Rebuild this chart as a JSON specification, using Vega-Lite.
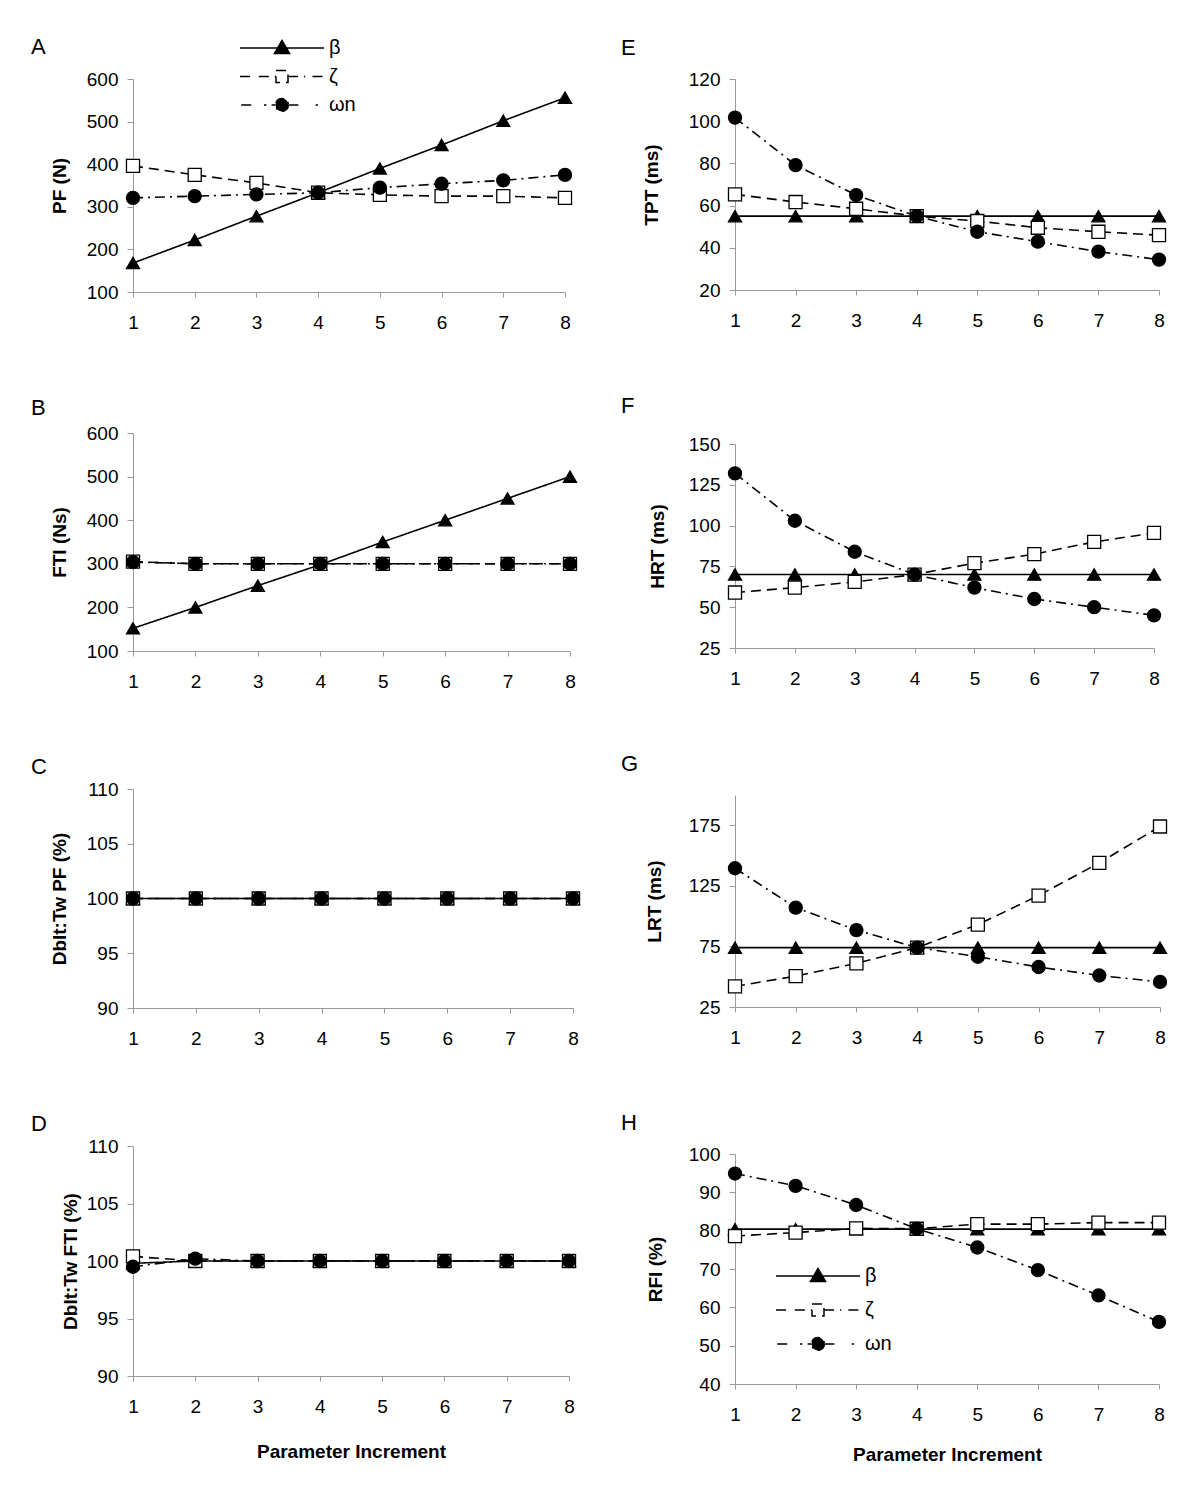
{
  "$schema": "https://vega.github.io/schema/vega-lite/v6.json",
  "background": "white",
  "padding": {"left": 31, "top": 35, "right": 5, "bottom": 5},
  "autosize": {"type": "pad"},
  "datasets": {
    "A": [
      {"param": "β", "x": 1, "y": 168}, {"param": "β", "x": 2, "y": 222}, {"param": "β", "x": 3, "y": 278}, {"param": "β", "x": 4, "y": 333},
      {"param": "β", "x": 5, "y": 390}, {"param": "β", "x": 6, "y": 445}, {"param": "β", "x": 7, "y": 502}, {"param": "β", "x": 8, "y": 556},
      {"param": "ζ", "x": 1, "y": 396}, {"param": "ζ", "x": 2, "y": 375}, {"param": "ζ", "x": 3, "y": 356}, {"param": "ζ", "x": 4, "y": 333},
      {"param": "ζ", "x": 5, "y": 328}, {"param": "ζ", "x": 6, "y": 325}, {"param": "ζ", "x": 7, "y": 325}, {"param": "ζ", "x": 8, "y": 321},
      {"param": "ωn", "x": 1, "y": 321}, {"param": "ωn", "x": 2, "y": 325}, {"param": "ωn", "x": 3, "y": 329}, {"param": "ωn", "x": 4, "y": 333},
      {"param": "ωn", "x": 5, "y": 345}, {"param": "ωn", "x": 6, "y": 354}, {"param": "ωn", "x": 7, "y": 362}, {"param": "ωn", "x": 8, "y": 375}
    ],
    "B": [
      {"param": "β", "x": 1, "y": 152}, {"param": "β", "x": 2, "y": 200}, {"param": "β", "x": 3, "y": 250}, {"param": "β", "x": 4, "y": 298},
      {"param": "β", "x": 5, "y": 350}, {"param": "β", "x": 6, "y": 400}, {"param": "β", "x": 7, "y": 450}, {"param": "β", "x": 8, "y": 500},
      {"param": "ζ", "x": 1, "y": 305}, {"param": "ζ", "x": 2, "y": 300}, {"param": "ζ", "x": 3, "y": 300}, {"param": "ζ", "x": 4, "y": 300},
      {"param": "ζ", "x": 5, "y": 300}, {"param": "ζ", "x": 6, "y": 300}, {"param": "ζ", "x": 7, "y": 300}, {"param": "ζ", "x": 8, "y": 300},
      {"param": "ωn", "x": 1, "y": 304}, {"param": "ωn", "x": 2, "y": 300}, {"param": "ωn", "x": 3, "y": 300}, {"param": "ωn", "x": 4, "y": 300},
      {"param": "ωn", "x": 5, "y": 300}, {"param": "ωn", "x": 6, "y": 300}, {"param": "ωn", "x": 7, "y": 300}, {"param": "ωn", "x": 8, "y": 300}
    ],
    "C": [
      {"param": "β", "x": 1, "y": 100}, {"param": "β", "x": 2, "y": 100}, {"param": "β", "x": 3, "y": 100}, {"param": "β", "x": 4, "y": 100},
      {"param": "β", "x": 5, "y": 100}, {"param": "β", "x": 6, "y": 100}, {"param": "β", "x": 7, "y": 100}, {"param": "β", "x": 8, "y": 100},
      {"param": "ζ", "x": 1, "y": 100}, {"param": "ζ", "x": 2, "y": 100}, {"param": "ζ", "x": 3, "y": 100}, {"param": "ζ", "x": 4, "y": 100},
      {"param": "ζ", "x": 5, "y": 100}, {"param": "ζ", "x": 6, "y": 100}, {"param": "ζ", "x": 7, "y": 100}, {"param": "ζ", "x": 8, "y": 100},
      {"param": "ωn", "x": 1, "y": 100}, {"param": "ωn", "x": 2, "y": 100}, {"param": "ωn", "x": 3, "y": 100}, {"param": "ωn", "x": 4, "y": 100},
      {"param": "ωn", "x": 5, "y": 100}, {"param": "ωn", "x": 6, "y": 100}, {"param": "ωn", "x": 7, "y": 100}, {"param": "ωn", "x": 8, "y": 100}
    ],
    "D": [
      {"param": "β", "x": 1, "y": 99.8}, {"param": "β", "x": 2, "y": 100}, {"param": "β", "x": 3, "y": 100}, {"param": "β", "x": 4, "y": 100},
      {"param": "β", "x": 5, "y": 100}, {"param": "β", "x": 6, "y": 100}, {"param": "β", "x": 7, "y": 100}, {"param": "β", "x": 8, "y": 100},
      {"param": "ζ", "x": 1, "y": 100.4}, {"param": "ζ", "x": 2, "y": 100}, {"param": "ζ", "x": 3, "y": 100}, {"param": "ζ", "x": 4, "y": 100},
      {"param": "ζ", "x": 5, "y": 100}, {"param": "ζ", "x": 6, "y": 100}, {"param": "ζ", "x": 7, "y": 100}, {"param": "ζ", "x": 8, "y": 100},
      {"param": "ωn", "x": 1, "y": 99.5}, {"param": "ωn", "x": 2, "y": 100.2}, {"param": "ωn", "x": 3, "y": 100}, {"param": "ωn", "x": 4, "y": 100},
      {"param": "ωn", "x": 5, "y": 100}, {"param": "ωn", "x": 6, "y": 100}, {"param": "ωn", "x": 7, "y": 100}, {"param": "ωn", "x": 8, "y": 100}
    ],
    "E": [
      {"param": "β", "x": 1, "y": 55}, {"param": "β", "x": 2, "y": 55}, {"param": "β", "x": 3, "y": 55}, {"param": "β", "x": 4, "y": 55},
      {"param": "β", "x": 5, "y": 55}, {"param": "β", "x": 6, "y": 55}, {"param": "β", "x": 7, "y": 55}, {"param": "β", "x": 8, "y": 55},
      {"param": "ζ", "x": 1, "y": 65.3}, {"param": "ζ", "x": 2, "y": 61.7}, {"param": "ζ", "x": 3, "y": 58.5}, {"param": "ζ", "x": 4, "y": 55},
      {"param": "ζ", "x": 5, "y": 52.7}, {"param": "ζ", "x": 6, "y": 49.5}, {"param": "ζ", "x": 7, "y": 47.6}, {"param": "ζ", "x": 8, "y": 46},
      {"param": "ωn", "x": 1, "y": 101.7}, {"param": "ωn", "x": 2, "y": 79.2}, {"param": "ωn", "x": 3, "y": 65}, {"param": "ωn", "x": 4, "y": 55},
      {"param": "ωn", "x": 5, "y": 47.6}, {"param": "ωn", "x": 6, "y": 42.9}, {"param": "ωn", "x": 7, "y": 38.2}, {"param": "ωn", "x": 8, "y": 34.4}
    ],
    "F": [
      {"param": "β", "x": 1, "y": 70}, {"param": "β", "x": 2, "y": 70}, {"param": "β", "x": 3, "y": 70}, {"param": "β", "x": 4, "y": 70},
      {"param": "β", "x": 5, "y": 70}, {"param": "β", "x": 6, "y": 70}, {"param": "β", "x": 7, "y": 70}, {"param": "β", "x": 8, "y": 70},
      {"param": "ζ", "x": 1, "y": 59}, {"param": "ζ", "x": 2, "y": 62}, {"param": "ζ", "x": 3, "y": 65.5}, {"param": "ζ", "x": 4, "y": 70},
      {"param": "ζ", "x": 5, "y": 77}, {"param": "ζ", "x": 6, "y": 82.5}, {"param": "ζ", "x": 7, "y": 90}, {"param": "ζ", "x": 8, "y": 95.5},
      {"param": "ωn", "x": 1, "y": 132}, {"param": "ωn", "x": 2, "y": 103}, {"param": "ωn", "x": 3, "y": 84}, {"param": "ωn", "x": 4, "y": 70},
      {"param": "ωn", "x": 5, "y": 62}, {"param": "ωn", "x": 6, "y": 55}, {"param": "ωn", "x": 7, "y": 50}, {"param": "ωn", "x": 8, "y": 45}
    ],
    "G": [
      {"param": "β", "x": 1, "y": 74}, {"param": "β", "x": 2, "y": 74}, {"param": "β", "x": 3, "y": 74}, {"param": "β", "x": 4, "y": 74},
      {"param": "β", "x": 5, "y": 74}, {"param": "β", "x": 6, "y": 74}, {"param": "β", "x": 7, "y": 74}, {"param": "β", "x": 8, "y": 74},
      {"param": "ζ", "x": 1, "y": 42}, {"param": "ζ", "x": 2, "y": 50.5}, {"param": "ζ", "x": 3, "y": 61}, {"param": "ζ", "x": 4, "y": 74},
      {"param": "ζ", "x": 5, "y": 93}, {"param": "ζ", "x": 6, "y": 117}, {"param": "ζ", "x": 7, "y": 144}, {"param": "ζ", "x": 8, "y": 174},
      {"param": "ωn", "x": 1, "y": 139.5}, {"param": "ωn", "x": 2, "y": 107}, {"param": "ωn", "x": 3, "y": 88.5}, {"param": "ωn", "x": 4, "y": 74},
      {"param": "ωn", "x": 5, "y": 66.5}, {"param": "ωn", "x": 6, "y": 58}, {"param": "ωn", "x": 7, "y": 51}, {"param": "ωn", "x": 8, "y": 45.7}
    ],
    "H": [
      {"param": "β", "x": 1, "y": 80.4}, {"param": "β", "x": 2, "y": 80.4}, {"param": "β", "x": 3, "y": 80.4}, {"param": "β", "x": 4, "y": 80.4},
      {"param": "β", "x": 5, "y": 80.4}, {"param": "β", "x": 6, "y": 80.4}, {"param": "β", "x": 7, "y": 80.4}, {"param": "β", "x": 8, "y": 80.4},
      {"param": "ζ", "x": 1, "y": 78.6}, {"param": "ζ", "x": 2, "y": 79.5}, {"param": "ζ", "x": 3, "y": 80.6}, {"param": "ζ", "x": 4, "y": 80.5},
      {"param": "ζ", "x": 5, "y": 81.7}, {"param": "ζ", "x": 6, "y": 81.7}, {"param": "ζ", "x": 7, "y": 82.1}, {"param": "ζ", "x": 8, "y": 82.1},
      {"param": "ωn", "x": 1, "y": 94.9}, {"param": "ωn", "x": 2, "y": 91.7}, {"param": "ωn", "x": 3, "y": 86.7}, {"param": "ωn", "x": 4, "y": 80.5},
      {"param": "ωn", "x": 5, "y": 75.6}, {"param": "ωn", "x": 6, "y": 69.7}, {"param": "ωn", "x": 7, "y": 63.1}, {"param": "ωn", "x": 8, "y": 56.2}
    ]
  },
  "resolve": {
    "scale": {"strokeDash": "independent", "shape": "independent", "fill": "independent", "stroke": "independent"},
    "legend": {"strokeDash": "independent", "shape": "independent", "fill": "independent", "stroke": "independent"}
  },
  "spacing": 38,
  "hconcat": [
    {
      "concat": [
        {
          "width": 432, "height": 213,
          "title": {"text": "A", "dx": -102, "offset": -20.5},
          "data": {"name": "A"},
          "encoding": {
            "x": {"field": "x", "type": "quantitative", "scale": {"domain": [1, 8], "nice": false, "zero": false}, "axis": {"values": [1, 2, 3, 4, 5, 6, 7, 8], "title": null}},
            "y": {"field": "y", "type": "quantitative", "scale": {"domain": [100, 600], "nice": false, "zero": false}, "axis": {"values": [100, 200, 300, 400, 500, 600], "title": "PF (N)", "titlePadding": 17}}
          },
          "layer": [
            {"mark": {"type": "line", "color": "black", "strokeWidth": 1.6},
             "encoding": {
               "strokeDash": {"field": "param", "type": "nominal", "scale": {"domain": ["β", "ζ", "ωn"], "range": [[1, 0], [10, 6], [10, 5, 2, 5]]}, "legend": null},
               "stroke": {"field": "param", "type": "nominal", "scale": {"domain": ["β", "ζ", "ωn"], "range": ["black", "black", "black"]},
                 "legend": {"orient": "none", "legendX": 139, "legendY": -41, "title": null, "symbolSize": 256,
                   "labelFontSize": 20, "labelFont": "Liberation Sans", "labelColor": "black", "labelOffset": 37, "rowPadding": 8.5, "padding": 0,
                   "encode": {"symbols": {"update": {
                     "shape": {"signal": "datum.value === 'β' ? 'M-5.25,0H5.25M0,-0.95L0.95,0.7L-0.95,0.7Z' : datum.value === 'ζ' ? 'M-5.25,0H-3.8M-2.9,0H-0.75M-0.75,-0.75H0.75V0.75H-0.75ZM0.75,0H2.9M3.8,0H5.25' : 'M-5.1,0H-3.6M-2.25,0H-1.95M-1.3,0H-0.8M0.8,0A0.8,0.8 0 1 1 -0.8,0A0.8,0.8 0 1 1 0.8,0ZM0.8,0H2.5M4.2,0H4.5'"},
                     "fill": {"signal": "datum.value === 'ζ' ? 'white' : 'black'"},
                     "strokeDash": {"value": [1, 0]}, "strokeWidth": {"value": 1.5}, "size": {"value": 256}, "opacity": {"value": 1}}}}}}}},
            {"transform": [{"filter": {"field": "param", "equal": "β"}}],
             "mark": {"type": "point", "shape": "triangle-up", "filled": true, "fill": "black", "stroke": "black", "strokeWidth": 1.3, "opacity": 1, "size": 170}},
            {"transform": [{"filter": {"field": "param", "equal": "ζ"}}],
             "mark": {"type": "point", "shape": "square", "filled": true, "fill": "white", "stroke": "black", "strokeWidth": 1.3, "opacity": 1, "size": 170}},
            {"transform": [{"filter": {"field": "param", "equal": "ωn"}}],
             "mark": {"type": "point", "shape": "circle", "filled": true, "fill": "black", "stroke": "black", "strokeWidth": 1.3, "opacity": 1, "size": 170}}
          ]
        },
        {
          "width": 437, "height": 218,
          "title": {"text": "B", "dx": -102, "offset": 4.5},
          "data": {"name": "B"},
          "encoding": {
            "x": {"field": "x", "type": "quantitative", "scale": {"domain": [1, 8], "nice": false, "zero": false}, "axis": {"values": [1, 2, 3, 4, 5, 6, 7, 8], "title": null}},
            "y": {"field": "y", "type": "quantitative", "scale": {"domain": [100, 600], "nice": false, "zero": false}, "axis": {"values": [100, 200, 300, 400, 500, 600], "title": "FTI (Ns)", "titlePadding": 17}}
          },
          "layer": [
            {"mark": {"type": "line", "color": "black", "strokeWidth": 1.6},
             "encoding": {"strokeDash": {"field": "param", "type": "nominal", "scale": {"domain": ["β", "ζ", "ωn"], "range": [[1, 0], [10, 6], [10, 5, 2, 5]]}, "legend": null}}},
            {"mark": {"type": "point", "filled": true, "stroke": "black", "strokeWidth": 1.3, "opacity": 1, "size": 170},
             "encoding": {
               "shape": {"field": "param", "type": "nominal", "scale": {"domain": ["β", "ζ", "ωn"], "range": ["triangle-up", "square", "circle"]}, "legend": null},
               "fill": {"field": "param", "type": "nominal", "scale": {"domain": ["β", "ζ", "ωn"], "range": ["black", "white", "black"]}, "legend": null}}}
          ]
        },
        {
          "width": 440, "height": 219,
          "title": {"text": "C", "dx": -102, "offset": 1.5},
          "data": {"name": "C"},
          "encoding": {
            "x": {"field": "x", "type": "quantitative", "scale": {"domain": [1, 8], "nice": false, "zero": false}, "axis": {"values": [1, 2, 3, 4, 5, 6, 7, 8], "title": null}},
            "y": {"field": "y", "type": "quantitative", "scale": {"domain": [90, 110], "nice": false, "zero": false}, "axis": {"values": [90, 95, 100, 105, 110], "title": "Dblt:Tw PF (%)", "titlePadding": 17}}
          },
          "layer": [
            {"mark": {"type": "line", "color": "black", "strokeWidth": 1.6},
             "encoding": {"strokeDash": {"field": "param", "type": "nominal", "scale": {"domain": ["β", "ζ", "ωn"], "range": [[1, 0], [10, 6], [10, 5, 2, 5]]}, "legend": null}}},
            {"mark": {"type": "point", "filled": true, "stroke": "black", "strokeWidth": 1.3, "opacity": 1, "size": 170},
             "encoding": {
               "shape": {"field": "param", "type": "nominal", "scale": {"domain": ["β", "ζ", "ωn"], "range": ["triangle-up", "square", "circle"]}, "legend": null},
               "fill": {"field": "param", "type": "nominal", "scale": {"domain": ["β", "ζ", "ωn"], "range": ["black", "white", "black"]}, "legend": null}}}
          ]
        },
        {
          "width": 436, "height": 230,
          "title": {"text": "D", "dx": -102, "offset": 1.5},
          "data": {"name": "D"},
          "encoding": {
            "x": {"field": "x", "type": "quantitative", "scale": {"domain": [1, 8], "nice": false, "zero": false}, "axis": {"values": [1, 2, 3, 4, 5, 6, 7, 8], "title": "Parameter Increment", "titlePadding": 26}},
            "y": {"field": "y", "type": "quantitative", "scale": {"domain": [90, 110], "nice": false, "zero": false}, "axis": {"values": [90, 95, 100, 105, 110], "title": "Dblt:Tw FTI (%)", "titlePadding": 6}}
          },
          "layer": [
            {"mark": {"type": "line", "color": "black", "strokeWidth": 1.6},
             "encoding": {"strokeDash": {"field": "param", "type": "nominal", "scale": {"domain": ["β", "ζ", "ωn"], "range": [[1, 0], [10, 6], [10, 5, 2, 5]]}, "legend": null}}},
            {"mark": {"type": "point", "filled": true, "stroke": "black", "strokeWidth": 1.3, "opacity": 1, "size": 170},
             "encoding": {
               "shape": {"field": "param", "type": "nominal", "scale": {"domain": ["β", "ζ", "ωn"], "range": ["triangle-up", "square", "circle"]}, "legend": null},
               "fill": {"field": "param", "type": "nominal", "scale": {"domain": ["β", "ζ", "ωn"], "range": ["black", "white", "black"]}, "legend": null}}}
          ]
        }
      ],
      "columns": 1,
      "align": "none",
      "spacing": 64,
      "resolve": {
        "scale": {"strokeDash": "independent", "shape": "independent", "fill": "independent", "stroke": "independent"},
        "legend": {"strokeDash": "independent", "shape": "independent", "fill": "independent", "stroke": "independent"}
      }
    },
    {
      "concat": [
        {
          "width": 424, "height": 211,
          "title": {"text": "E", "dx": -114, "offset": 10.5},
          "data": {"name": "E"},
          "encoding": {
            "x": {"field": "x", "type": "quantitative", "scale": {"domain": [1, 8], "nice": false, "zero": false}, "axis": {"values": [1, 2, 3, 4, 5, 6, 7, 8], "title": null}},
            "y": {"field": "y", "type": "quantitative", "scale": {"domain": [20, 120], "nice": false, "zero": false}, "axis": {"values": [20, 40, 60, 80, 100, 120], "title": "TPT (ms)", "titlePadding": 27}}
          },
          "layer": [
            {"mark": {"type": "line", "color": "black", "strokeWidth": 1.6},
             "encoding": {"strokeDash": {"field": "param", "type": "nominal", "scale": {"domain": ["β", "ζ", "ωn"], "range": [[1, 0], [10, 6], [10, 5, 2, 5]]}, "legend": null}}},
            {"mark": {"type": "point", "filled": true, "stroke": "black", "strokeWidth": 1.3, "opacity": 1, "size": 170},
             "encoding": {
               "shape": {"field": "param", "type": "nominal", "scale": {"domain": ["β", "ζ", "ωn"], "range": ["triangle-up", "square", "circle"]}, "legend": null},
               "fill": {"field": "param", "type": "nominal", "scale": {"domain": ["β", "ζ", "ωn"], "range": ["black", "white", "black"]}, "legend": null}}}
          ]
        },
        {
          "width": 419, "height": 204,
          "title": {"text": "F", "dx": -114, "offset": 17.5},
          "data": {"name": "F"},
          "encoding": {
            "x": {"field": "x", "type": "quantitative", "scale": {"domain": [1, 8], "nice": false, "zero": false}, "axis": {"values": [1, 2, 3, 4, 5, 6, 7, 8], "title": null}},
            "y": {"field": "y", "type": "quantitative", "scale": {"domain": [25, 150], "nice": false, "zero": false}, "axis": {"values": [25, 50, 75, 100, 125, 150], "title": "HRT (ms)", "titlePadding": 21}}
          },
          "layer": [
            {"mark": {"type": "line", "color": "black", "strokeWidth": 1.6},
             "encoding": {"strokeDash": {"field": "param", "type": "nominal", "scale": {"domain": ["β", "ζ", "ωn"], "range": [[1, 0], [10, 6], [10, 5, 2, 5]]}, "legend": null}}},
            {"mark": {"type": "point", "filled": true, "stroke": "black", "strokeWidth": 1.3, "opacity": 1, "size": 170},
             "encoding": {
               "shape": {"field": "param", "type": "nominal", "scale": {"domain": ["β", "ζ", "ωn"], "range": ["triangle-up", "square", "circle"]}, "legend": null},
               "fill": {"field": "param", "type": "nominal", "scale": {"domain": ["β", "ζ", "ωn"], "range": ["black", "white", "black"]}, "legend": null}}}
          ]
        },
        {
          "width": 425, "height": 212,
          "title": {"text": "G", "dx": -114, "offset": 19.5},
          "data": {"name": "G"},
          "encoding": {
            "x": {"field": "x", "type": "quantitative", "scale": {"domain": [1, 8], "nice": false, "zero": false}, "axis": {"values": [1, 2, 3, 4, 5, 6, 7, 8], "title": null}},
            "y": {"field": "y", "type": "quantitative", "scale": {"domain": [25, 200], "nice": false, "zero": false}, "axis": {"values": [25, 75, 125, 175], "title": "LRT (ms)", "titlePadding": 24}}
          },
          "layer": [
            {"mark": {"type": "line", "color": "black", "strokeWidth": 1.6},
             "encoding": {"strokeDash": {"field": "param", "type": "nominal", "scale": {"domain": ["β", "ζ", "ωn"], "range": [[1, 0], [10, 6], [10, 5, 2, 5]]}, "legend": null}}},
            {"mark": {"type": "point", "filled": true, "stroke": "black", "strokeWidth": 1.3, "opacity": 1, "size": 170},
             "encoding": {
               "shape": {"field": "param", "type": "nominal", "scale": {"domain": ["β", "ζ", "ωn"], "range": ["triangle-up", "square", "circle"]}, "legend": null},
               "fill": {"field": "param", "type": "nominal", "scale": {"domain": ["β", "ζ", "ωn"], "range": ["black", "white", "black"]}, "legend": null}}}
          ]
        },
        {
          "width": 424, "height": 230,
          "title": {"text": "H", "dx": -114, "offset": 10.5},
          "data": {"name": "H"},
          "encoding": {
            "x": {"field": "x", "type": "quantitative", "scale": {"domain": [1, 8], "nice": false, "zero": false}, "axis": {"values": [1, 2, 3, 4, 5, 6, 7, 8], "title": "Parameter Increment", "titlePadding": 21}},
            "y": {"field": "y", "type": "quantitative", "scale": {"domain": [40, 100], "nice": false, "zero": false}, "axis": {"values": [40, 50, 60, 70, 80, 90, 100], "title": "RFI (%)", "titlePadding": 23}}
          },
          "layer": [
            {"mark": {"type": "line", "color": "black", "strokeWidth": 1.6},
             "encoding": {
               "strokeDash": {"field": "param", "type": "nominal", "scale": {"domain": ["β", "ζ", "ωn"], "range": [[1, 0], [10, 6], [10, 5, 2, 5]]}, "legend": null},
               "stroke": {"field": "param", "type": "nominal", "scale": {"domain": ["β", "ζ", "ωn"], "range": ["black", "black", "black"]},
                 "legend": {"orient": "none", "legendX": 73, "legendY": 112, "title": null, "symbolSize": 256,
                   "labelFontSize": 20, "labelFont": "Liberation Sans", "labelColor": "black", "labelOffset": 37, "rowPadding": 14, "padding": 0,
                   "encode": {"symbols": {"update": {
                     "shape": {"signal": "datum.value === 'β' ? 'M-5.25,0H5.25M0,-0.95L0.95,0.7L-0.95,0.7Z' : datum.value === 'ζ' ? 'M-5.25,0H-3.8M-2.9,0H-0.75M-0.75,-0.75H0.75V0.75H-0.75ZM0.75,0H2.9M3.8,0H5.25' : 'M-5.1,0H-3.6M-2.25,0H-1.95M-1.3,0H-0.8M0.8,0A0.8,0.8 0 1 1 -0.8,0A0.8,0.8 0 1 1 0.8,0ZM0.8,0H2.5M4.2,0H4.5'"},
                     "fill": {"signal": "datum.value === 'ζ' ? 'white' : 'black'"},
                     "strokeDash": {"value": [1, 0]}, "strokeWidth": {"value": 1.5}, "size": {"value": 256}, "opacity": {"value": 1}}}}}}}},
            {"transform": [{"filter": {"field": "param", "equal": "β"}}],
             "mark": {"type": "point", "shape": "triangle-up", "filled": true, "fill": "black", "stroke": "black", "strokeWidth": 1.3, "opacity": 1, "size": 170}},
            {"transform": [{"filter": {"field": "param", "equal": "ζ"}}],
             "mark": {"type": "point", "shape": "square", "filled": true, "fill": "white", "stroke": "black", "strokeWidth": 1.3, "opacity": 1, "size": 170}},
            {"transform": [{"filter": {"field": "param", "equal": "ωn"}}],
             "mark": {"type": "point", "shape": "circle", "filled": true, "fill": "black", "stroke": "black", "strokeWidth": 1.3, "opacity": 1, "size": 170}}
          ]
        }
      ],
      "columns": 1,
      "align": "none",
      "spacing": 64,
      "resolve": {
        "scale": {"strokeDash": "independent", "shape": "independent", "fill": "independent", "stroke": "independent"},
        "legend": {"strokeDash": "independent", "shape": "independent", "fill": "independent", "stroke": "independent"}
      }
    }
  ],
  "config": {
    "view": {"stroke": null},
    "font": "Liberation Sans",
    "title": {"anchor": "start", "frame": "group", "baseline": "bottom", "fontSize": 22, "fontWeight": "normal", "font": "Liberation Sans", "color": "black"},
    "axis": {"grid": false, "domainColor": "#9a9a9a", "tickColor": "#9a9a9a", "domainWidth": 1, "tickWidth": 1,
      "labelFont": "Liberation Sans", "labelFontSize": 19, "labelColor": "black", "labelOverlap": false, "labelFlush": false,
      "titleFont": "Liberation Sans", "titleFontSize": 19, "titleFontWeight": "bold", "titleColor": "black"},
    "axisX": {"tickSize": 5, "labelPadding": 16},
    "axisY": {"tickSize": 6, "labelPadding": 9}
  }
}
